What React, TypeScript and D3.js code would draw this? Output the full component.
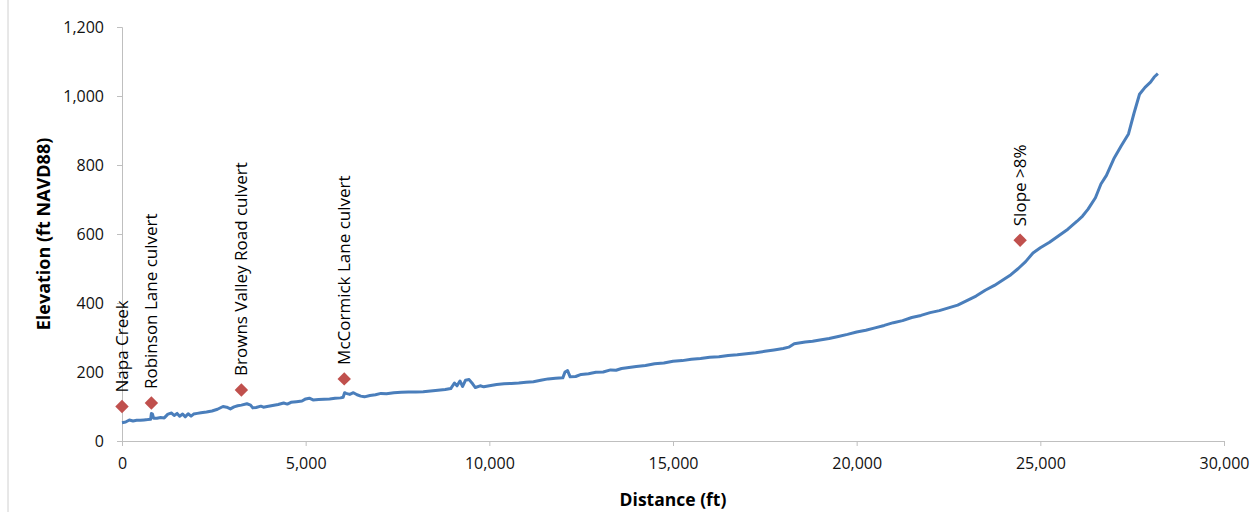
import React, { useRef, useEffect } from 'react';
import * as d3 from 'd3';

// Elevation profile (distance in ft, elevation in ft NAVD88)
const distance = [
  0, 100, 200, 300, 400, 500, 600, 700, 780, 800, 830, 860, 950, 1050, 1150, 1250, 1350, 1420, 1500, 1570,
  1650, 1720, 1800, 1880, 1950, 2050, 2150, 2300, 2450, 2600, 2750, 2850, 2950, 3050, 3150, 3250, 3400, 3500,
  3560, 3650, 3780, 3850, 3950, 4100, 4250, 4400, 4500, 4600, 4750, 4900, 5000, 5100, 5200, 5350, 5500, 5650,
  5800, 5950, 6020, 6060, 6100, 6200, 6300, 6400, 6500, 6600, 6750, 6900, 7050, 7200, 7400, 7600, 7800, 8000,
  8200, 8400, 8600, 8800, 8950, 9050, 9120, 9200, 9270, 9350, 9450, 9550, 9620, 9750, 9850, 10000, 10200,
  10400, 10600, 10800, 11000, 11200, 11400, 11600, 11800, 12000, 12060, 12130, 12200, 12350, 12500, 12700,
  12900, 13100, 13300, 13450, 13600, 13800, 14000, 14250, 14500, 14750, 15000, 15250, 15500, 15750, 16000,
  16250, 16500, 16750, 17000, 17250, 17500, 17750, 18000, 18150, 18300, 18600, 18800, 19000, 19250, 19500,
  19750, 20000, 20250, 20500, 20750, 21000, 21250, 21500, 21750, 22000, 22250, 22500, 22750, 23000, 23250,
  23500, 23750, 24000, 24200, 24400, 24600, 24800, 25000, 25250, 25500, 25750, 26000, 26150, 26300, 26500,
  26650, 26800, 27000, 27200, 27400, 27550, 27700, 27850, 28000, 28100, 28200,
];
const elevation = [
  53, 55, 61, 58, 60, 60, 61, 62, 63, 80, 78, 66, 66, 68, 67, 78, 81, 74, 80, 72,
  78, 70, 79, 72, 78, 80, 82, 84, 87, 92, 100, 98, 93, 99, 102, 104, 108, 104,
  96, 97, 101, 98, 100, 103, 106, 110, 107, 112, 114, 116, 122, 124, 119, 120, 121, 122,
  124, 125, 127, 140, 138, 135, 140, 134, 130, 128, 132, 134, 138, 137, 140, 141, 142, 142,
  143, 145, 147, 149, 152, 168, 160, 174, 158, 176, 178, 165, 155, 160, 157, 160, 164,
  166, 167, 168, 170, 172, 176, 180, 182, 183, 200, 204, 186, 187, 193, 195,
  199, 200, 206, 205, 210, 213, 216, 219, 224, 226, 231, 233, 237, 239, 243,
  244, 248, 250, 253, 256, 260, 264, 268, 272, 282, 287, 289, 293, 297, 303,
  309, 316, 321, 328, 335, 343, 349, 358, 364, 372, 378, 386, 394, 407, 420,
  437, 451, 468, 482, 500, 520, 545, 560, 576, 595, 614, 637, 652, 672, 705,
  745, 770, 818, 855, 890, 950, 1005, 1025, 1040, 1055, 1065,
];

// Points of interest
const poiNames = ['Napa Creek', 'Robinson Lane culvert', 'Browns Valley Road culvert', 'McCormick Lane culvert', 'Slope >8%'];
const poiDistance = [0, 800, 3250, 6050, 24450];
const poiElevation = [100, 110, 148, 180, 582];

const xTicks = [0, 5000, 10000, 15000, 20000, 25000, 30000];
const yTicks = [0, 200, 400, 600, 800, 1000, 1200];

const FONT = '"Open Sans", "Liberation Sans", sans-serif';

export default function App() {
  const ref = useRef<SVGSVGElement>(null);

  useEffect(() => {
    if (!ref.current) return;
    drawChart(ref.current);
  }, []);

  return (
    <svg
      ref={ref}
      width={1256}
      height={512}
      style={{ position: 'absolute', left: 0, top: 0, background: '#fff' }}
    />
  );
}

function drawChart(svgElement: SVGSVGElement) {
  const svg = d3.select(svgElement);
  svg.selectAll('*').remove();

  const x = d3.scaleLinear().domain([0, 30000]).range([122, 1224]);
  const y = d3.scaleLinear().domain([0, 1200]).range([441, 27]);
  const fmt = d3.format(',');
  const axisColor = '#bfbfbf';

  // frame edge on the left
  svg.append('line')
    .attr('x1', 8).attr('x2', 8).attr('y1', 0).attr('y2', 512)
    .attr('stroke', '#d0d0d0').attr('stroke-width', 1);

  // Y axis
  const yAxis = svg.append('g')
    .attr('transform', `translate(${x(0)},0)`)
    .call(d3.axisLeft(y).tickValues(yTicks).tickSize(5).tickPadding(13).tickFormat((d) => fmt(d as number)));
  yAxis.select('.domain').attr('stroke', axisColor);
  yAxis.selectAll('.tick line').attr('stroke', axisColor);
  yAxis.selectAll('.tick text')
    .attr('fill', '#111').attr('font-family', FONT).attr('font-size', 16);

  // X axis
  const xAxis = svg.append('g')
    .attr('transform', `translate(0,${y(0)})`)
    .call(d3.axisBottom(x).tickValues(xTicks).tickSize(5).tickPadding(12).tickFormat((d) => fmt(d as number)));
  xAxis.select('.domain').attr('stroke', axisColor);
  xAxis.selectAll('.tick line').attr('stroke', axisColor);
  xAxis.selectAll('.tick text')
    .attr('fill', '#111').attr('font-family', FONT).attr('font-size', 16);

  // Axis titles
  svg.append('text')
    .attr('x', 673).attr('y', 506)
    .attr('text-anchor', 'middle')
    .attr('font-family', FONT).attr('font-size', 17.5).attr('font-weight', 'bold')
    .text('Distance (ft)');

  svg.append('text')
    .attr('transform', `translate(50,${y(600)}) rotate(-90)`)
    .attr('text-anchor', 'middle')
    .attr('font-family', FONT).attr('font-size', 18).attr('font-weight', 'bold')
    .text('Elevation (ft NAVD88)');

  // Profile line
  const line = d3.line<number>()
    .x((_, i) => x(distance[i]))
    .y((d) => y(d));

  svg.append('path')
    .datum(elevation)
    .attr('d', line)
    .attr('fill', 'none')
    .attr('stroke', '#4a7ebb')
    .attr('stroke-width', 3)
    .attr('stroke-linejoin', 'round');

  // Markers + labels
  const diamond = d3.symbol().type(d3.symbolDiamond2).size(115);
  const poi = svg.append('g');
  poiNames.forEach((name, i) => {
    const px = x(poiDistance[i]);
    const py = y(poiElevation[i]);
    poi.append('path')
      .attr('d', diamond()!)
      .attr('transform', `translate(${px},${py})`)
      .attr('fill', '#c0504d');
    poi.append('text')
      .attr('transform', `translate(${px + 6},${py - 14}) rotate(-90)`)
      .attr('font-family', FONT).attr('font-size', 17)
      .attr('fill', '#000')
      .text(name);
  });
}
